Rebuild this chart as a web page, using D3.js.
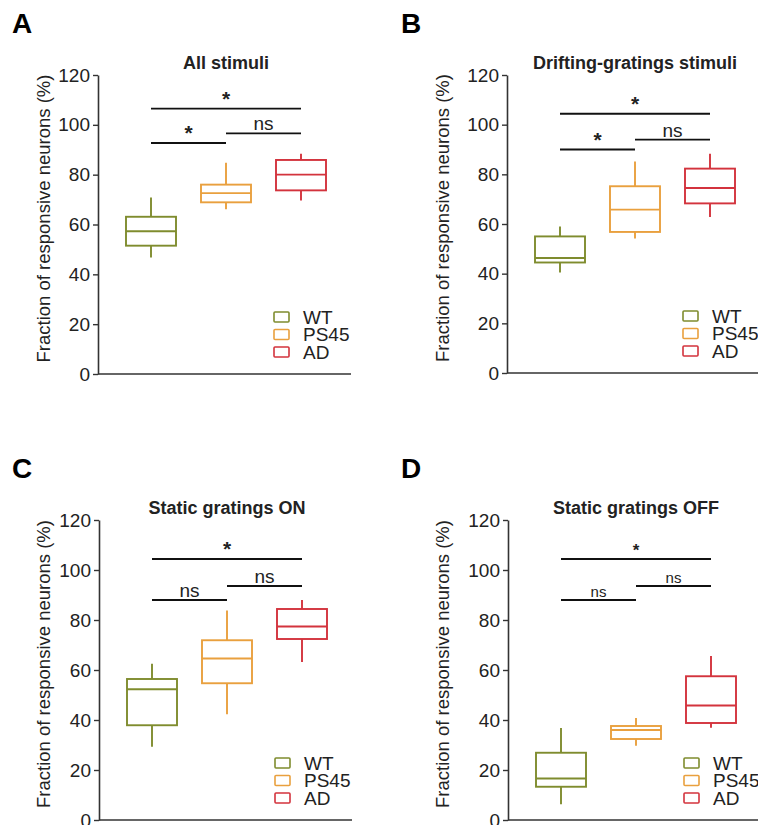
<!DOCTYPE html>
<html>
<head>
<meta charset="utf-8">
<script src="https://cdn.jsdelivr.net/npm/d3@7"></script>
<style>
  body { margin: 0; background: #fff; }
  svg text { font-family: "Liberation Sans", Arial, Helvetica, sans-serif; fill: #222; }
</style>
</head>
<body>
<svg id="fig"></svg>
<script>
// groups and axis ticks
var groups = ["WT", "PS45", "AD"];
var yTicks = [0, 20, 40, 60, 80, 100, 120];
var panelLetters = ["A", "B", "C", "D"];
var panelTitles = ["All stimuli", "Drifting-gratings stimuli", "Static gratings ON", "Static gratings OFF"];

// box stats per group: [low whisker, q1, median, q3, high whisker]
var allStimuli = [[46.8, 51.5, 57.3, 63.1, 70.8], [66.1, 68.9, 72.6, 76.0, 84.8], [69.6, 73.7, 80.0, 85.9, 88.4]];
var driftingGratings = [[40.5, 44.5, 46.3, 55.0, 59.0], [54.2, 56.8, 65.8, 75.2, 85.2], [62.8, 68.3, 74.5, 82.3, 88.3]];
var staticOn = [[29.3, 37.9, 52.3, 56.4, 62.5], [42.3, 54.7, 64.6, 71.9, 83.8], [63.2, 72.4, 77.4, 84.4, 88.0]];
var staticOff = [[6.3, 13.3, 16.6, 26.9, 36.8], [29.7, 32.4, 36.0, 37.6, 40.8], [36.9, 38.8, 45.8, 57.5, 65.6]];

// significance brackets: which pair, height, label
var sigPairs = [[0, 2], [0, 1], [1, 2]];
var sigLevelsA = [106.5, 92.7, 96.6];
var sigLevelsB = [104.4, 90.0, 94.0];
var sigLevelsC = [104.4, 88.0, 93.6];
var sigLevelsD = [104.4, 88.0, 93.6];
var sigLabelsA = ["*", "*", "ns"];
var sigLabelsB = ["*", "*", "ns"];
var sigLabelsC = ["*", "ns", "ns"];
var sigLabelsD = ["*", "ns", "ns"];

var colors = {WT: "#7f8c2e", PS45: "#e9a03e", AD: "#d3333d"};

var statsList = [allStimuli, driftingGratings, staticOn, staticOff];
var sigLevelsList = [sigLevelsA, sigLevelsB, sigLevelsC, sigLevelsD];
var sigLabelsList = [sigLabelsA, sigLabelsB, sigLabelsC, sigLabelsD];

// where each panel sits on the page
var layout = [
  {axisX: 98,  top: 75,  bottom: 374, letterX: 12,  labelX: 50,  sigFont: 19},
  {axisX: 507, top: 75,  bottom: 373, letterX: 401, labelX: 449, sigFont: 19},
  {axisX: 99,  top: 520, bottom: 820, letterX: 12,  labelX: 50,  sigFont: 19},
  {axisX: 508, top: 520, bottom: 820, letterX: 401, labelX: 449, sigFont: 15}
];

var svg = d3.select("#fig")
  .attr("width", 758)
  .attr("height", 825);

var drawPanel = function(i) {
  var L = layout[i];
  var stats = statsList[i];

  var yScale = d3.scaleLinear()
    .domain([0, 120])
    .range([L.bottom, L.top]);

  var xScale = d3.scaleBand()
    .domain(groups)
    .range([28, 228])
    .paddingInner(1 / 3)
    .paddingOuter(0);

  var cx = function(g) { return xScale(g) + xScale.bandwidth() / 2; };

  // panel letter
  svg.append("text")
    .attr("x", L.letterX)
    .attr("y", L.top - 42)
    .style("font-size", "28px")
    .style("font-weight", "bold")
    .style("fill", "#000")
    .text(panelLetters[i]);

  var plot = svg.append("g")
    .attr("transform", "translate(" + L.axisX + ",0)");

  // title
  plot.append("text")
    .attr("x", cx(groups[1]))
    .attr("y", L.top - 6)
    .attr("text-anchor", "middle")
    .style("font-size", "18px")
    .style("font-weight", "bold")
    .text(panelTitles[i]);

  // y axis
  var yAxis = plot.append("g")
    .call(d3.axisLeft(yScale).tickValues(yTicks).tickSize(5).tickSizeOuter(0).tickPadding(3));
  yAxis.select(".domain").attr("stroke", "#333").attr("stroke-width", 1.6);
  yAxis.selectAll(".tick line").attr("stroke", "#333").attr("stroke-width", 1.4);
  yAxis.selectAll(".tick text")
    .style("font-size", "19px")
    .style("font-family", "'Liberation Sans', Arial, sans-serif")
    .attr("fill", "#222");

  // x axis line
  plot.append("line")
    .attr("x1", 0).attr("x2", 253)
    .attr("y1", yScale(0)).attr("y2", yScale(0))
    .attr("stroke", "#333")
    .attr("stroke-width", 1.6);

  // y label
  svg.append("text")
    .attr("transform", "translate(" + L.labelX + "," + ((L.top + L.bottom) / 2 - 6) + ") rotate(-90)")
    .attr("text-anchor", "middle")
    .style("font-size", "18.5px")
    .text("Fraction of responsive neurons (%)");

  // boxes
  var boxes = plot.selectAll("g.box")
    .data(groups)
    .enter()
    .append("g")
    .classed("box", true)
    .attr("stroke", function(g) { return colors[g]; })
    .attr("stroke-width", 1.9)
    .attr("fill", "none");

  boxes.append("line")
    .attr("x1", cx).attr("x2", cx)
    .attr("y1", function(g, j) { return yScale(stats[j][0]); })
    .attr("y2", function(g, j) { return yScale(stats[j][1]); });

  boxes.append("line")
    .attr("x1", cx).attr("x2", cx)
    .attr("y1", function(g, j) { return yScale(stats[j][3]); })
    .attr("y2", function(g, j) { return yScale(stats[j][4]); });

  boxes.append("rect")
    .attr("x", function(g) { return xScale(g); })
    .attr("width", xScale.bandwidth())
    .attr("y", function(g, j) { return yScale(stats[j][3]); })
    .attr("height", function(g, j) { return yScale(stats[j][1]) - yScale(stats[j][3]); });

  boxes.append("line")
    .attr("x1", function(g) { return xScale(g); })
    .attr("x2", function(g) { return xScale(g) + xScale.bandwidth(); })
    .attr("y1", function(g, j) { return yScale(stats[j][2]); })
    .attr("y2", function(g, j) { return yScale(stats[j][2]); });

  // significance brackets
  var levels = sigLevelsList[i];
  var labels = sigLabelsList[i];
  var sig = plot.selectAll("g.sig")
    .data(sigPairs)
    .enter()
    .append("g")
    .classed("sig", true);

  sig.append("line")
    .attr("x1", function(p) { return cx(groups[p[0]]); })
    .attr("x2", function(p) { return cx(groups[p[1]]); })
    .attr("y1", function(p, k) { return yScale(levels[k]); })
    .attr("y2", function(p, k) { return yScale(levels[k]); })
    .attr("stroke", "#111")
    .attr("stroke-width", 1.8);

  sig.append("text")
    .attr("x", function(p) { return (cx(groups[p[0]]) + cx(groups[p[1]])) / 2; })
    .attr("y", function(p, k) { return yScale(levels[k]) - 3; })
    .attr("text-anchor", "middle")
    .style("font-size", function(p, k) { return (labels[k] === "*" ? L.sigFont + 2 : L.sigFont) + "px"; })
    .style("font-weight", function(p, k) { return labels[k] === "*" ? "bold" : "normal"; })
    .text(function(p, k) { return labels[k]; });

  // legend
  var legend = plot.append("g")
    .attr("transform", "translate(176," + (L.bottom - 57) + ")");

  var legendLines = legend.selectAll("g")
    .data(groups)
    .enter()
    .append("g")
    .attr("transform", function(g, j) { return "translate(0," + (j * 17.5) + ")"; });

  legendLines.append("rect")
    .attr("x", 0)
    .attr("y", -5)
    .attr("width", 15)
    .attr("height", 10)
    .attr("rx", 1)
    .attr("fill", "none")
    .attr("stroke", function(g) { return colors[g]; })
    .attr("stroke-width", 1.6);

  legendLines.append("text")
    .attr("x", 29)
    .attr("y", 0)
    .attr("dy", "0.36em")
    .style("font-size", "19px")
    .text(function(g) { return g; });
};

for (var i = 0; i < 4; i++) {
  drawPanel(i);
}
</script>
</body>
</html>
